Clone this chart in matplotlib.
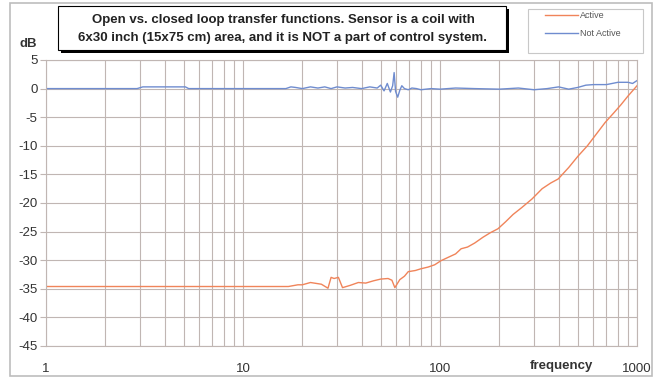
import matplotlib
matplotlib.use("Agg")
import matplotlib.pyplot as plt
from matplotlib.patches import Rectangle
from matplotlib.ticker import FixedLocator, NullFormatter

plt.rcParams["font.family"] = ["Liberation Sans", "DejaVu Sans"]
plt.rcParams["axes.unicode_minus"] = False

# data
active_freq = [1, 17, 19, 20, 22, 25, 27, 28, 29, 30.5, 32, 35, 38.5, 42, 46, 50,
               54.5, 57, 59, 62.5, 66, 69, 75, 80, 87, 94, 101, 110, 120, 128,
               138, 150, 165, 180, 197, 215, 235, 260, 293, 330, 365, 398, 450,
               502, 560, 620, 690, 760, 830, 900, 960, 1000]
active_db = [-34.6, -34.6, -34.3, -34.3, -33.9, -34.2, -34.9, -33.0, -33.2, -33.0,
             -34.8, -34.4, -33.9, -34.0, -33.6, -33.3, -33.2, -33.5, -34.8, -33.4,
             -32.8, -32.0, -31.8, -31.5, -31.2, -30.8, -30.1, -29.5, -28.9, -28.0,
             -27.7, -27.0, -26.0, -25.2, -24.5, -23.3, -22.0, -20.8, -19.3, -17.5,
             -16.5, -15.8, -13.8, -11.8, -10.0, -8.0, -5.9, -4.3, -2.8, -1.3,
             -0.2, 0.5]

passive_freq = [1, 2.9, 3.1, 5.1, 5.3, 16.5, 17.5, 18.5, 20, 22, 24, 26, 28, 30,
                33, 36, 40, 44, 48, 50, 52, 54, 56, 57.5, 58.5, 59.5, 61, 62.5,
                64, 66, 69, 72, 76, 80, 90, 100, 120, 150, 200, 250, 300, 350,
                400, 450, 500, 550, 600, 700, 800, 900, 950, 1000]
passive_db = [0, 0, 0.3, 0.3, 0, 0, 0.3, 0.2, 0.0, 0.3, 0.1, 0.3, 0.0, 0.3, 0.1,
              0.2, 0.0, 0.3, 0.1, 0.6, -0.4, 0.9, -0.6, 0.5, 2.8, -0.5, -1.5,
              -0.3, 0.5, 0.0, -0.2, 0.1, 0.0, -0.2, 0.0, -0.1, 0.1, 0.0, -0.1,
              0.1, -0.2, 0.0, 0.3, -0.1, 0.2, 0.6, 0.7, 0.7, 1.1, 1.1, 0.9, 1.4]

x_ticks = [1, 10, 100, 1000]
y_ticks = list(range(-45, 6, 5))

W, H = 655, 377
GRID = "#c0b6b3"
TEXT = "#333333"


def px(x, y):
    # pixel position -> figure fraction
    return x / W, 1 - y / H


fig = plt.figure(figsize=(W / 100, H / 100), dpi=100)
ax = fig.add_axes([46 / W, 1 - 346 / H, 591 / W, 286 / H])

ax.plot(active_freq, active_db, color="#f0845a", lw=1.0, label="Active")
ax.plot(passive_freq, passive_db, color="#6f8ccf", lw=1.0, label="Not Active")

ax.set_xscale("log")
ax.set_xlim(1, 1000)
ax.set_ylim(-45, 5)
ax.xaxis.set_major_locator(FixedLocator(x_ticks))
ax.set_xticklabels([str(t) for t in x_ticks])
ax.xaxis.set_minor_locator(FixedLocator(
    [m * 10 ** d for d in range(3) for m in range(2, 10)]))
ax.xaxis.set_minor_formatter(NullFormatter())
ax.set_yticks(y_ticks)

ax.grid(True, which="both", color=GRID, lw=0.8)
ax.set_axisbelow(True)
for s in ax.spines.values():
    s.set_color(GRID)
ax.tick_params(axis="x", which="both", length=0, pad=12, labelsize=9.5,
               labelcolor=TEXT)
ax.tick_params(axis="y", length=4, color=GRID, pad=2, labelsize=9.5,
               labelcolor=TEXT)

fig.text(*px(28, 44), "dB", ha="center", va="center", fontsize=9.5,
         fontweight="bold", color=TEXT)
fig.text(*px(561, 366), "frequency", ha="center", va="center", fontsize=9.5,
         fontweight="bold", color=TEXT)

# outer frame
fig.patches.append(Rectangle(px(10, 376), 642 / W, 373 / H, transform=fig.transFigure,
                             fill=False, ec="#bdbdbd", lw=1.2))

# title box with shadow
fig.patches.append(Rectangle(px(61, 53), 448 / W, 44 / H, transform=fig.transFigure,
                             fc="black", ec="black", lw=0))
fig.patches.append(Rectangle(px(58, 50), 448 / W, 44 / H, transform=fig.transFigure,
                             fc="white", ec="black", lw=0.8))
fig.text(*px(283, 20), "Open vs. closed loop transfer functions. Sensor is a coil with",
         ha="center", va="center", fontsize=9.5, fontweight="bold", color="#222222")
fig.text(*px(283, 38), "6x30 inch (15x75 cm) area, and it is NOT a part of control system.",
         ha="center", va="center", fontsize=9.5, fontweight="bold", color="#222222")

# legend box
fig.patches.append(Rectangle(px(528, 53), 115 / W, 44 / H, transform=fig.transFigure,
                             fc="white", ec="#c8c8c8", lw=0.8))
leg = fig.legend(loc="upper left", bbox_to_anchor=px(540, 6), fontsize=6.5,
                 frameon=False, handlelength=3.6, borderpad=0.6,
                 labelspacing=1.0, handletextpad=0.2, borderaxespad=0)
for t in leg.get_texts():
    t.set_color("#555555")

fig.savefig("out.png", dpi=100)
